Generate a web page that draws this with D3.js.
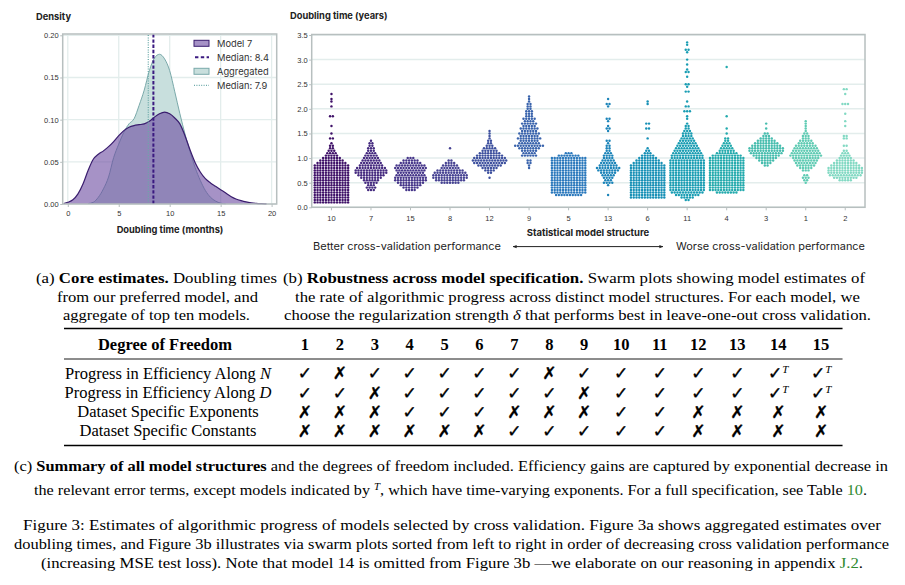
<!DOCTYPE html>
<html>
<head>
<meta charset="utf-8">
<script src="https://cdn.jsdelivr.net/npm/d3@7"></script>
<style>
body { margin: 0; background: #fff; }
svg { display: block; }
.sans { font-family: Inter, "Open Sans", sans-serif; }
.serif { font-family: "Liberation Serif", "Times New Roman", serif; }
</style>
</head>
<body>
<svg id="fig" width="905" height="585"></svg>
<script>
// (a) kernel density estimates
var kdeX7 = [-0.4, 0, 0.5, 1, 1.5, 2, 2.5, 3, 3.5, 4, 4.5, 5, 5.5, 6, 6.5, 7, 7.5, 8, 8.5, 9, 9.5, 10,
    10.5, 11, 11.5, 12, 12.5, 13, 13.5, 14, 14.5, 15, 15.5, 16, 16.5, 17, 17.5, 18, 18.5, 19, 19.5];
var kdeY7 = [0.0005, 0.002, 0.005, 0.012, 0.024, 0.04, 0.053, 0.059, 0.063, 0.068, 0.074, 0.081, 0.087,
    0.091, 0.093, 0.094, 0.095, 0.098, 0.103, 0.107, 0.109, 0.107, 0.102, 0.095, 0.081, 0.064, 0.049,
    0.038, 0.030, 0.025, 0.021, 0.017, 0.013, 0.009, 0.006, 0.004, 0.0025, 0.0015, 0.0008, 0.0004, 0.0001];
var kdeXAgg = [2, 2.5, 3, 3.5, 4, 4.5, 5, 5.5, 6, 6.5, 7, 7.5, 8, 8.5, 9, 9.5, 10, 10.5, 11, 11.5, 12,
    12.5, 13, 13.5, 14, 14.5, 15, 15.5];
var kdeYAgg = [0.0005, 0.002, 0.008, 0.018, 0.032, 0.055, 0.071, 0.085, 0.095, 0.101, 0.117, 0.135,
    0.158, 0.173, 0.1775, 0.172, 0.158, 0.133, 0.107, 0.083, 0.062, 0.043, 0.028, 0.016, 0.008, 0.0035,
    0.001, 0.0002];
var median7 = 8.4;
var medianAgg = 7.9;
var monthTicks = [0, 5, 10, 15, 20];
var densityTicks = [0, 0.05, 0.10, 0.15, 0.20];
var legendLabels = ["Model 7", "Median: 8.4", "Aggregated", "Median: 7.9"];

// (b) swarms: each row is [doubling time in years, dots at that value]
var swarmModels = ["10", "7", "15", "8", "12", "9", "5", "13", "6", "11", "4", "3", "1", "2"];
var swarmColors = ["#3f1168", "#452a7f", "#46368a", "#474393", "#3d509e", "#3963ac", "#2a78bc",
    "#1c84b9", "#1790b6", "#199db3", "#23aaad", "#47bdae", "#5fcbb3", "#82d9c3"];
var yearTicks = [0, 0.5, 1.0, 1.5, 2.0, 2.5, 3.0, 3.5];

var rows10 = [[0.10,13],[0.15,13],[0.20,13],[0.25,13],[0.30,13],[0.35,13],[0.40,13],[0.45,13],[0.50,13],
    [0.55,13],[0.60,13],[0.65,13],[0.70,13],[0.75,13],[0.80,13],[0.85,13],[0.90,11],[0.95,9],[1.00,7],
    [1.05,5],[1.10,4],[1.15,3],[1.20,2],[1.25,2],[1.30,1],[1.40,2],[1.50,1],[1.65,1],[1.85,2],[2.05,1],
    [2.15,1],[2.20,1],[2.30,1]];
var rows7 = [[0.35,3],[0.40,4],[0.45,3],[0.50,5],[0.55,6],[0.60,8],[0.65,10],[0.70,12],[0.75,12],[0.80,11],
    [0.85,9],[0.90,8],[0.95,7],[1.00,6],[1.05,5],[1.10,4],[1.15,3],[1.20,3],[1.25,2],[1.30,2],[1.35,1]];
var rows15 = [[0.35,4],[0.40,6],[0.45,8],[0.50,10],[0.55,12],[0.60,12],[0.65,11],[0.70,10],[0.75,11],
    [0.80,12],[0.85,11],[0.90,8],[0.95,6],[1.00,3]];
var rows8 = [[0.50,7],[0.55,11],[0.60,13],[0.65,13],[0.70,12],[0.75,10],[0.80,7],[0.85,6],[0.90,4],
    [0.95,2],[1.20,1]];
var rows12 = [[0.60,1],[0.70,2],[0.75,4],[0.80,6],[0.85,9],[0.90,12],[0.95,13],[1.00,12],[1.05,10],
    [1.10,8],[1.15,6],[1.20,5],[1.25,3],[1.30,2],[1.35,2],[1.40,1],[1.45,1],[1.50,1],[1.55,1]];
var rows9 = [[0.80,1],[0.85,1],[0.90,2],[0.95,2],[1.05,6],[1.10,5],[1.15,6],[1.20,8],[1.25,11],[1.30,8],
    [1.35,7],[1.40,9],[1.45,7],[1.50,8],[1.55,6],[1.60,7],[1.65,5],[1.70,6],[1.75,4],[1.80,5],[1.85,3],
    [1.90,3],[1.95,3],[2.00,2],[2.05,2],[2.10,2],[2.15,1],[2.20,1],[2.25,1]];
var rows5 = [[0.25,10],[0.30,13],[0.35,13],[0.40,13],[0.45,13],[0.50,13],[0.55,13],[0.60,13],[0.65,13],
    [0.70,13],[0.75,13],[0.80,13],[0.85,13],[0.90,13],[0.95,13],[1.00,13],[1.05,8],[1.10,3]];
var rows13 = [[0.25,1],[0.45,1],[0.50,4],[0.55,3],[0.60,4],[0.65,5],[0.70,6],[0.75,8],[0.80,9],[0.85,7],
    [0.90,6],[0.95,5],[1.00,4],[1.05,4],[1.10,3],[1.15,2],[1.20,2],[1.25,2],[1.30,1],[1.35,2],[1.55,1],
    [1.60,2],[1.65,1],[1.75,1],[1.80,2],[2.05,1],[2.10,2],[2.20,1]];
var rows6 = [[0.20,13],[0.25,13],[0.30,13],[0.35,13],[0.40,13],[0.45,13],[0.50,13],[0.55,13],[0.60,13],
    [0.65,13],[0.70,13],[0.75,13],[0.80,13],[0.85,13],[0.90,11],[0.95,9],[1.00,7],[1.05,5],[1.10,3],
    [1.15,2],[1.20,1],[1.40,1],[1.60,2],[1.70,2],[2.10,1],[2.15,1]];
var rows11 = [[0.15,2],[0.20,5],[0.25,9],[0.30,12],[0.35,13],[0.40,13],[0.45,13],[0.50,13],[0.55,13],
    [0.60,13],[0.65,13],[0.70,13],[0.75,13],[0.80,13],[0.85,13],[0.90,13],[0.95,13],[1.00,12],[1.05,12],
    [1.10,11],[1.15,10],[1.20,9],[1.25,8],[1.30,7],[1.35,6],[1.40,5],[1.45,4],[1.50,4],[1.55,3],[1.60,2],
    [1.65,2],[1.70,1],[1.80,1],[1.85,1],[1.95,3],[2.05,2],[2.15,1],[2.35,2],[2.45,1],[2.50,2],[2.65,1],
    [2.75,2],[2.80,1],[2.90,1],[3.00,1],[3.15,1],[3.20,2],[3.30,1],[3.35,1]];
var rows4 = [[0.30,8],[0.35,13],[0.40,13],[0.45,13],[0.50,13],[0.55,13],[0.60,13],[0.65,13],[0.70,13],
    [0.75,13],[0.80,13],[0.85,13],[0.90,13],[0.95,13],[1.00,13],[1.05,11],[1.10,8],[1.15,6],[1.20,5],
    [1.25,4],[1.30,3],[1.35,2],[1.40,2],[1.50,1],[1.60,1],[1.85,1],[2.85,1]];
var rows3 = [[0.85,2],[0.90,4],[0.95,6],[1.00,8],[1.05,10],[1.10,12],[1.15,13],[1.20,13],[1.25,11],
    [1.30,9],[1.35,7],[1.40,5],[1.45,3],[1.50,2],[1.60,1],[1.70,1]];
var rows1 = [[0.50,1],[0.55,2],[0.60,3],[0.65,2],[0.75,3],[0.80,5],[0.85,7],[0.90,8],[0.95,9],[1.00,10],
    [1.05,12],[1.10,11],[1.15,10],[1.20,9],[1.25,8],[1.30,6],[1.35,5],[1.40,3],[1.45,3],[1.50,2],
    [1.55,1],[1.60,1],[1.65,1],[1.70,1],[1.75,1]];
var rows2 = [[0.55,5],[0.60,9],[0.65,12],[0.70,13],[0.75,13],[0.80,13],[0.85,11],[0.90,9],[0.95,7],
    [1.00,5],[1.05,4],[1.10,3],[1.15,2],[1.25,2],[1.40,2],[1.45,2],[1.65,1],[1.75,1],[1.90,1],[2.10,3],
    [2.30,1],[2.40,2]];
var swarmRows = [rows10, rows7, rows15, rows8, rows12, rows9, rows5, rows13, rows6, rows11, rows4,
    rows3, rows1, rows2];

// (c) table: 1 = check, 0 = cross, 2 = check with time-varying exponent
var tableCols = ["1", "2", "3", "4", "5", "6", "7", "8", "9", "10", "11", "12", "13", "14", "15"];
var rowLabels = [["Progress in Efficiency Along ", "N"], ["Progress in Efficiency Along ", "D"],
    ["Dataset Specific Exponents", ""], ["Dataset Specific Constants", ""]];
var marksN = [1, 0, 1, 1, 1, 1, 1, 0, 1, 1, 1, 1, 1, 2, 2];
var marksD = [1, 1, 0, 1, 1, 1, 1, 1, 0, 1, 1, 1, 1, 2, 2];
var marksExp = [0, 0, 0, 1, 1, 1, 0, 0, 0, 1, 1, 0, 0, 0, 0];
var marksConst = [0, 0, 0, 0, 0, 0, 1, 1, 1, 1, 1, 0, 0, 0, 0];
var tableMarks = [marksN, marksD, marksExp, marksConst];

var svg = d3.select("#fig");
var frameColor = "#b7bfbf";
var gridColor = "#e3edec";

// ---------- (a) density ----------
var xD = d3.scaleLinear().domain([-0.5, 20.5]).range([62.7, 276.7]);
var yD = d3.scaleLinear().domain([0, 0.2]).range([204, 35.3]);
var gA = svg.append("g").attr("class", "sans");

gA.selectAll(".gx").data(monthTicks).enter().append("line")
    .attr("x1", function (d) { return xD(d); })
    .attr("x2", function (d) { return xD(d); })
    .attr("y1", 34).attr("y2", 204)
    .attr("stroke", gridColor).attr("stroke-width", 1.3);
gA.selectAll(".gy").data(densityTicks).enter().append("line")
    .attr("x1", 62.7).attr("x2", 276.7)
    .attr("y1", function (d) { return yD(d); })
    .attr("y2", function (d) { return yD(d); })
    .attr("stroke", gridColor).attr("stroke-width", 1.3);

var area = d3.area()
    .x(function (d) { return xD(d[0]); })
    .y0(yD(0))
    .y1(function (d) { return yD(d[1]); })
    .curve(d3.curveMonotoneX);
var line = d3.line()
    .x(function (d) { return xD(d[0]); })
    .y(function (d) { return yD(d[1]); })
    .curve(d3.curveMonotoneX);

var aggPts = d3.zip(kdeXAgg, kdeYAgg);
var m7Pts = d3.zip(kdeX7, kdeY7);
gA.append("path").datum(aggPts).attr("d", area).attr("fill", "#c8dfdd");
gA.append("path").datum(aggPts).attr("d", line).attr("fill", "none")
    .attr("stroke", "#7aa9aa").attr("stroke-width", 1);
gA.append("path").datum(m7Pts).attr("d", area).attr("fill", "#6a4aa0").attr("fill-opacity", 0.6);
gA.append("path").datum(m7Pts).attr("d", line).attr("fill", "none")
    .attr("stroke", "#3a1d6e").attr("stroke-width", 1.2);

gA.append("line").attr("x1", xD(medianAgg)).attr("x2", xD(medianAgg)).attr("y1", 204).attr("y2", 34)
    .attr("stroke", "#6aa8a8").attr("stroke-width", 1.3).attr("stroke-dasharray", "1,1.4");
gA.append("line").attr("x1", xD(median7)).attr("x2", xD(median7)).attr("y1", 204).attr("y2", 34)
    .attr("stroke", "#3b1a80").attr("stroke-width", 2).attr("stroke-dasharray", "3.4,1.8");

gA.append("rect").attr("x", 62.7).attr("y", 34).attr("width", 214).attr("height", 170)
    .attr("fill", "none").attr("stroke", frameColor).attr("stroke-width", 1.5);

var axA = gA.append("g").attr("transform", "translate(0,204)")
    .call(d3.axisBottom(xD).tickValues(monthTicks).tickSize(3).tickPadding(3.5));
var ayA = gA.append("g").attr("transform", "translate(62.7,0)")
    .call(d3.axisLeft(yD).tickValues(densityTicks).tickSize(2.5).tickPadding(1.5).tickFormat(d3.format(".2f")));
[axA, ayA].forEach(function (ax) {
    ax.select(".domain").remove();
    ax.selectAll("line").attr("stroke", frameColor);
    ax.selectAll("text").attr("font-size", 7.5).attr("fill", "#333").attr("font-family", null);
});

gA.append("text").attr("x", 36).attr("y", 19.5).attr("font-size", 9.3).attr("font-weight", 700)
    .attr("fill", "#222").text("Density");
gA.append("text").attr("x", 170).attr("y", 233).attr("text-anchor", "middle").attr("font-size", 9.3)
    .attr("font-weight", 700).attr("fill", "#222").text("Doubling time (months)");

var leg = gA.selectAll(".leg").data(legendLabels).enter().append("g")
    .attr("transform", function (d, i) { return "translate(194," + (43.3 + i * 14) + ")"; });
leg.append("text").attr("x", 23).attr("y", 3.3).attr("font-size", 9.3).attr("fill", "#333")
    .text(function (d) { return d; });
leg.filter(function (d, i) { return i === 0; }).append("rect")
    .attr("x", 0).attr("y", -3).attr("width", 15).attr("height", 6)
    .attr("fill", "#a692c6").attr("stroke", "#3a1d6e").attr("stroke-width", 1);
leg.filter(function (d, i) { return i === 2; }).append("rect")
    .attr("x", 0).attr("y", -3).attr("width", 15).attr("height", 6)
    .attr("fill", "#c8dfdd").attr("stroke", "#7aa9aa").attr("stroke-width", 1);
leg.filter(function (d, i) { return i === 1; }).append("line")
    .attr("x1", 0).attr("x2", 15).attr("stroke", "#3b1a80").attr("stroke-width", 2)
    .attr("stroke-dasharray", "3.4,2.4").attr("stroke-dashoffset", -1);
leg.filter(function (d, i) { return i === 3; }).append("line")
    .attr("x1", 0).attr("x2", 15).attr("stroke", "#6aa8a8").attr("stroke-width", 1.3)
    .attr("stroke-dasharray", "1,1.4");

// ---------- (b) swarm ----------
var xS = d3.scaleBand().domain(swarmModels).range([311.7, 865]);
var yS = d3.scaleLinear().domain([0, 3.5]).range([207.3, 35]);
var gB = svg.append("g").attr("class", "sans");

gB.selectAll(".gy").data(yearTicks).enter().append("line")
    .attr("x1", 311.7).attr("x2", 865)
    .attr("y1", function (d) { return yS(d); })
    .attr("y2", function (d) { return yS(d); })
    .attr("stroke", gridColor).attr("stroke-width", 1.5);

var dotStep = 2.78;
var dots = [];
swarmModels.forEach(function (m, k) {
    swarmRows[k].forEach(function (r) {
        for (var i = 0; i < r[1]; i++) {
            dots.push({ model: m, k: k, v: r[0], off: (i - (r[1] - 1) / 2) * dotStep });
        }
    });
});
gB.selectAll("circle").data(dots).enter().append("circle")
    .attr("cx", function (d) { return xS(d.model) + xS.bandwidth() / 2 + d.off; })
    .attr("cy", function (d) { return yS(d.v); })
    .attr("r", 1.22)
    .attr("fill", function (d) { return swarmColors[d.k]; });

gB.append("rect").attr("x", 311.7).attr("y", 34.5).attr("width", 865 - 311.7).attr("height", 207.3 - 34.5)
    .attr("fill", "none").attr("stroke", frameColor).attr("stroke-width", 1.5);

var axB = gB.append("g").attr("transform", "translate(0,207.3)")
    .call(d3.axisBottom(xS).tickSize(3).tickPadding(5));
var ayB = gB.append("g").attr("transform", "translate(311.7,0)")
    .call(d3.axisLeft(yS).tickValues(yearTicks).tickSize(2.5).tickPadding(1.5).tickFormat(d3.format(".1f")));
[axB, ayB].forEach(function (ax) {
    ax.select(".domain").remove();
    ax.selectAll("line").attr("stroke", frameColor);
    ax.selectAll("text").attr("font-size", 7.5).attr("fill", "#333").attr("font-family", null);
});

gB.append("text").attr("x", 290).attr("y", 19).attr("font-size", 9.3).attr("font-weight", 700)
    .attr("fill", "#222").text("Doubling time (years)");
gB.append("text").attr("x", 588).attr("y", 235.5).attr("text-anchor", "middle").attr("font-size", 9.5)
    .attr("font-weight", 700).attr("fill", "#222").text("Statistical model structure");
gB.append("text").attr("x", 313).attr("y", 249.8).attr("font-size", 10.5).attr("fill", "#222")
    .attr("textLength", 188).attr("lengthAdjust", "spacingAndGlyphs")
    .text("Better cross-validation performance");
gB.append("text").attr("x", 676).attr("y", 249.8).attr("font-size", 10.5)
    .attr("textLength", 189).attr("lengthAdjust", "spacingAndGlyphs")
    .attr("fill", "#222").text("Worse cross-validation performance");

svg.append("defs").append("marker").attr("id", "ah")
    .attr("viewBox", "0 0 10 10").attr("refX", 9).attr("refY", 5)
    .attr("markerWidth", 4).attr("markerHeight", 4).attr("orient", "auto-start-reverse")
    .append("path").attr("d", "M0,1L10,5L0,9z").attr("fill", "#222");
gB.append("line").attr("x1", 513).attr("x2", 663).attr("y1", 246.6).attr("y2", 246.6)
    .attr("stroke", "#222").attr("stroke-width", 1)
    .attr("marker-start", "url(#ah)").attr("marker-end", "url(#ah)");

// ---------- captions and table ----------
var gC = svg.append("g").attr("class", "serif").attr("fill", "#000");

function richLine(x, y, len, parts, size) {
    var t = gC.append("text").attr("x", x).attr("y", y).attr("text-anchor", "middle")
        .attr("font-size", size || 15);
    if (len) t.attr("textLength", len).attr("lengthAdjust", "spacingAndGlyphs");
    parts.forEach(function (p) {
        var s = t.append("tspan").text(p[0]);
        if (p[1] === "b") s.attr("font-weight", 700);
        if (p[1] === "i") s.attr("font-style", "italic");
        if (p[1] === "g") s.attr("fill", "#2f8a2f");
        if (p[1] === "sup") s.attr("font-style", "italic").attr("font-size", 10).attr("baseline-shift", "super");
    });
    return t;
}

richLine(156.5, 283, 241, [["(a) "], ["Core estimates.", "b"], [" Doubling times"]]);
richLine(157.5, 301.5, 201, [["from our preferred model, and"]]);
richLine(156.5, 320, 187, [["aggregate of top ten models."]]);
richLine(574, 283, 582, [["(b) "], ["Robustness across model specification.", "b"], [" Swarm plots showing model estimates of"]]);
richLine(577.5, 301.5, 565, [["the rate of algorithmic progress across distinct model structures. For each model, we"]]);
richLine(577.5, 320, 587, [["choose the regularization strength "], ["\u03b4", "i"], [" that performs best in leave-one-out cross validation."]]);

var topRule = gC.append("line").attr("x1", 64).attr("x2", 838.5).attr("y1", 328.5).attr("y2", 328.5)
    .attr("stroke", "#000").attr("stroke-width", 1.3);

// column layout from measured cell widths
var tableSize = 16.5;
function measure(str, font) {
    var t = gC.append("text").attr("font-size", 15).attr("font-weight", 700).text(str);
    if (font) t.attr("font-family", font).attr("font-size", 13).attr("font-weight", null);
    var w = t.node().getComputedTextLength();
    t.remove();
    return w;
}
var colPad = 12;
var colStart = 287.5;
var colX = tableCols.map(function (c, j) {
    var markW = measure(tableMarks.some(function (r) { return r[j] === 2; }) ? "\u2713T" : "\u2713", "DejaVu Sans");
    var w = Math.max(measure(c), markW) + 2 * colPad;
    var cx = colStart + w / 2;
    colStart += w;
    return cx;
});
var tableRight = colStart;
topRule.attr("x2", tableRight);

gC.append("text").attr("x", 165).attr("y", 349.5).attr("text-anchor", "middle").attr("font-size", tableSize)
    .attr("font-weight", 700).text("Degree of Freedom");
gC.selectAll(".colh").data(tableCols).enter().append("text")
    .attr("x", function (d, j) { return colX[j]; }).attr("y", 349.5).attr("text-anchor", "middle")
    .attr("font-size", tableSize).attr("font-weight", 700).text(function (d) { return d; });
gC.append("line").attr("x1", 64).attr("x2", tableRight).attr("y1", 359).attr("y2", 359)
    .attr("stroke", "#000").attr("stroke-width", 0.9);

var rowY = [378.5, 398, 417, 436];
rowLabels.forEach(function (lab, r) {
    var t = gC.append("text").attr("x", 168).attr("y", rowY[r]).attr("text-anchor", "middle")
        .attr("font-size", tableSize);
    t.append("tspan").text(lab[0]);
    if (lab[1]) t.append("tspan").attr("font-style", "italic").text(lab[1]);
    tableMarks[r].forEach(function (m, j) {
        var c = gC.append("text").attr("x", colX[j]).attr("y", rowY[r] + 0.5).attr("text-anchor", "middle")
            .attr("font-size", 17).attr("font-weight", 700).attr("font-family", "DejaVu Sans")
            .attr("stroke", "#000").attr("stroke-width", 0.35);
        c.append("tspan").text(m === 0 ? "\u2717" : "\u2713");
        if (m === 2) {
            c.append("tspan").attr("font-family", "Liberation Serif").attr("font-style", "italic")
                .attr("font-weight", 400).attr("stroke-width", 0).attr("font-size", 11)
                .attr("baseline-shift", "super").text("T");
        }
    });
});
gC.append("line").attr("x1", 64).attr("x2", tableRight).attr("y1", 445.5).attr("y2", 445.5)
    .attr("stroke", "#000").attr("stroke-width", 1.3);

richLine(451, 471, 874, [["(c) "], ["Summary of all model structures", "b"],
    [" and the degrees of freedom included. Efficiency gains are captured by exponential decrease in"]]);
richLine(450.5, 495, 833, [["the relevant error terms, except models indicated by "], ["T", "sup"],
    [", which have time-varying exponents. For a full specification, see Table "], ["10", "g"], ["."]]);
richLine(452, 530, 858, [["Figure 3: Estimates of algorithmic progress of models selected by cross validation. Figure 3a shows aggregated estimates over"]]);
richLine(451.5, 549, 875, [["doubling times, and Figure 3b illustrates via swarm plots sorted from left to right in order of decreasing cross validation performance"]]);
richLine(452, 567.5, 822, [["(increasing MSE test loss). Note that model 14 is omitted from Figure 3b \u2014we elaborate on our reasoning in appendix "],
    ["J.2", "g"], ["."]]);
</script>
</body>
</html>
